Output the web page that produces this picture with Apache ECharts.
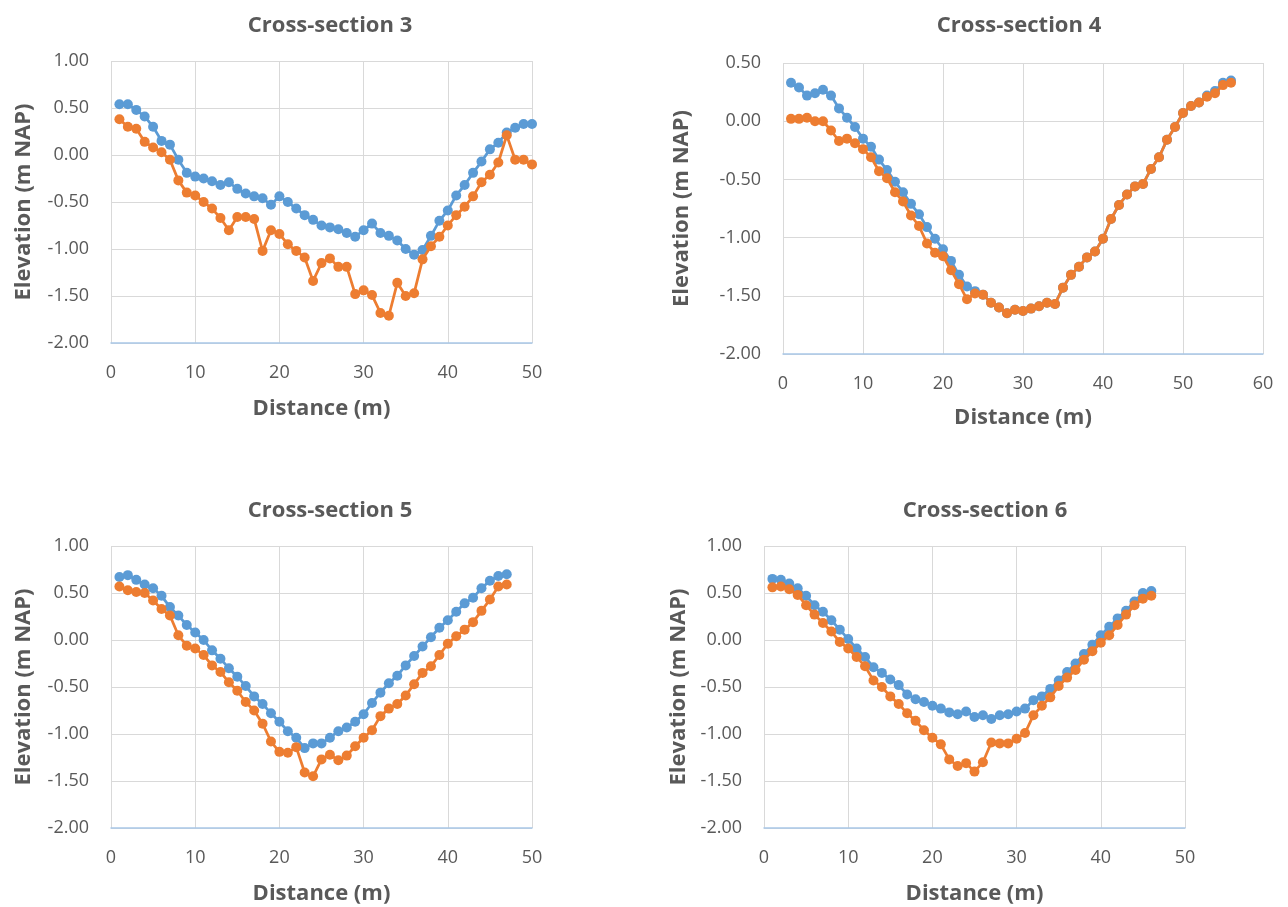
<!DOCTYPE html>
<html>
<head>
<meta charset="utf-8">
<title>Cross-sections</title>
<script src="https://cdn.jsdelivr.net/npm/echarts@6/dist/echarts.min.js"></script>
<style>
  html, body { margin: 0; padding: 0; background: #ffffff; }
  #chart { width: 1288px; height: 907px; }
</style>
</head>
<body>
<div id="chart"></div>
<script>
// Surveyed bed profiles, elevation in m NAP against distance across the channel (m)

const cs3Distance = [1,2,3,4,5,6,7,8,9,10,11,12,13,14,15,16,17,18,19,20,21,22,23,24,25,26,27,28,29,30,31,32,33,34,35,36,37,38,39,40,41,42,43,44,45,46,47,48,49,50];
const cs3Series1 = [0.54,0.54,0.48,0.41,0.30,0.15,0.11,-0.05,-0.19,-0.23,-0.25,-0.28,-0.32,-0.29,-0.36,-0.41,-0.44,-0.46,-0.53,-0.44,-0.50,-0.57,-0.64,-0.69,-0.75,-0.77,-0.79,-0.83,-0.87,-0.80,-0.73,-0.83,-0.86,-0.91,-1.00,-1.06,-1.01,-0.86,-0.70,-0.59,-0.43,-0.32,-0.19,-0.07,0.06,0.13,0.24,0.29,0.33,0.33];
const cs3Series2 = [0.38,0.30,0.28,0.14,0.08,0.03,-0.05,-0.27,-0.40,-0.43,-0.50,-0.57,-0.67,-0.80,-0.66,-0.66,-0.68,-1.02,-0.80,-0.84,-0.95,-1.02,-1.09,-1.34,-1.15,-1.10,-1.19,-1.19,-1.48,-1.44,-1.49,-1.68,-1.71,-1.36,-1.50,-1.47,-1.11,-0.97,-0.87,-0.75,-0.64,-0.55,-0.44,-0.29,-0.21,-0.08,0.21,-0.05,-0.05,-0.10];

const cs4Distance = [1,2,3,4,5,6,7,8,9,10,11,12,13,14,15,16,17,18,19,20,21,22,23,24,25,26,27,28,29,30,31,32,33,34,35,36,37,38,39,40,41,42,43,44,45,46,47,48,49,50,51,52,53,54,55,56];
const cs4Series1 = [0.33,0.29,0.22,0.24,0.27,0.22,0.11,0.03,-0.05,-0.15,-0.22,-0.33,-0.42,-0.52,-0.61,-0.71,-0.80,-0.91,-1.01,-1.10,-1.20,-1.32,-1.42,-1.46,-1.49,-1.56,-1.60,-1.65,-1.62,-1.63,-1.61,-1.59,-1.56,-1.57,-1.43,-1.32,-1.25,-1.17,-1.12,-1.01,-0.84,-0.72,-0.63,-0.56,-0.54,-0.41,-0.31,-0.16,-0.05,0.07,0.13,0.16,0.22,0.26,0.33,0.35];
const cs4Series2 = [0.02,0.02,0.03,0.00,0.00,-0.08,-0.17,-0.15,-0.19,-0.24,-0.31,-0.43,-0.49,-0.61,-0.69,-0.81,-0.90,-1.05,-1.13,-1.16,-1.28,-1.40,-1.53,-1.48,-1.49,-1.56,-1.60,-1.65,-1.62,-1.63,-1.61,-1.59,-1.56,-1.57,-1.43,-1.32,-1.25,-1.17,-1.12,-1.01,-0.84,-0.72,-0.63,-0.56,-0.54,-0.41,-0.31,-0.16,-0.05,0.07,0.13,0.16,0.21,0.24,0.31,0.33];

const cs5Distance = [1,2,3,4,5,6,7,8,9,10,11,12,13,14,15,16,17,18,19,20,21,22,23,24,25,26,27,28,29,30,31,32,33,34,35,36,37,38,39,40,41,42,43,44,45,46,47];
const cs5Series1 = [0.67,0.69,0.64,0.59,0.55,0.47,0.35,0.26,0.16,0.08,0.00,-0.11,-0.20,-0.30,-0.39,-0.49,-0.60,-0.68,-0.78,-0.87,-0.97,-1.04,-1.15,-1.10,-1.10,-1.04,-0.97,-0.93,-0.87,-0.79,-0.67,-0.56,-0.46,-0.38,-0.27,-0.17,-0.07,0.03,0.13,0.21,0.30,0.39,0.45,0.55,0.63,0.68,0.70];
const cs5Series2 = [0.57,0.53,0.51,0.50,0.42,0.33,0.26,0.05,-0.06,-0.09,-0.16,-0.27,-0.34,-0.45,-0.54,-0.66,-0.75,-0.89,-1.08,-1.19,-1.20,-1.14,-1.41,-1.45,-1.27,-1.22,-1.28,-1.23,-1.13,-1.04,-0.96,-0.81,-0.73,-0.68,-0.59,-0.47,-0.35,-0.28,-0.16,-0.04,0.04,0.11,0.19,0.31,0.43,0.57,0.59];

const cs6Distance = [1,2,3,4,5,6,7,8,9,10,11,12,13,14,15,16,17,18,19,20,21,22,23,24,25,26,27,28,29,30,31,32,33,34,35,36,37,38,39,40,41,42,43,44,45,46];
const cs6Series1 = [0.65,0.64,0.60,0.55,0.47,0.37,0.30,0.21,0.11,0.01,-0.09,-0.18,-0.29,-0.35,-0.42,-0.48,-0.58,-0.63,-0.66,-0.70,-0.73,-0.77,-0.79,-0.76,-0.82,-0.80,-0.84,-0.80,-0.79,-0.76,-0.73,-0.64,-0.60,-0.52,-0.43,-0.34,-0.25,-0.15,-0.05,0.05,0.14,0.23,0.31,0.41,0.50,0.52];
const cs6Series2 = [0.56,0.57,0.54,0.48,0.37,0.27,0.18,0.09,-0.02,-0.09,-0.18,-0.28,-0.43,-0.50,-0.60,-0.68,-0.78,-0.86,-0.96,-1.04,-1.11,-1.27,-1.34,-1.31,-1.40,-1.30,-1.09,-1.10,-1.10,-1.05,-0.99,-0.80,-0.70,-0.61,-0.49,-0.40,-0.32,-0.21,-0.12,-0.03,0.05,0.16,0.27,0.37,0.44,0.47];

const panelTitles = ['Cross-section 3', 'Cross-section 4', 'Cross-section 5', 'Cross-section 6'];
const xAxisTitle = 'Distance (m)';
const yAxisTitle = 'Elevation (m NAP)';

const panels = [
  { distance: cs3Distance, s1: cs3Series1, s2: cs3Series2, xMax: 50, yMax: 1.0,
    grid: { left: 111, top: 61, width: 421, height: 282 }, titleX: 325, titleY: 10, yGap: 76, xGap: 55 },
  { distance: cs4Distance, s1: cs4Series1, s2: cs4Series2, xMax: 60, yMax: 0.5,
    grid: { left: 783, top: 63, width: 480, height: 291 }, titleX: 1014, titleY: 10, yGap: 90, xGap: 53 },
  { distance: cs5Distance, s1: cs5Series1, s2: cs5Series2, xMax: 50, yMax: 1.0,
    grid: { left: 111, top: 546, width: 421, height: 282 }, titleX: 325, titleY: 495, yGap: 76, xGap: 55 },
  { distance: cs6Distance, s1: cs6Series1, s2: cs6Series2, xMax: 50, yMax: 1.0,
    grid: { left: 764, top: 546, width: 421, height: 282 }, titleX: 980, titleY: 495, yGap: 74, xGap: 55 }
];

const FONT = '"Open Sans", "Liberation Sans", sans-serif';
const TEXT = '#595959';
const GRIDLINE = '#D9D9D9';
const BLUE = '#5B9BD5';
const ORANGE = '#ED7D31';

const pairs = (xs, ys) => xs.map((x, i) => [x, ys[i]]);

const option = {
  animation: false,
  backgroundColor: '#ffffff',
  title: panels.map((p, i) => ({
    text: panelTitles[i],
    left: p.titleX, top: p.titleY, textAlign: 'center',
    textStyle: { fontFamily: FONT, fontSize: 22, fontWeight: 'bold', color: TEXT }
  })),
  grid: panels.map(p => Object.assign({ containLabel: false }, p.grid)),
  xAxis: panels.map((p, i) => ({
    type: 'value', gridIndex: i, min: 0, max: p.xMax, interval: 10,
    name: xAxisTitle, nameLocation: 'middle', nameGap: p.xGap,
    nameTextStyle: { fontFamily: FONT, fontSize: 22, fontWeight: 'bold', color: TEXT },
    axisLine: { show: true, onZero: false, lineStyle: { color: '#A9C8E8', width: 1.5 } },
    axisTick: { show: false },
    axisLabel: { fontFamily: FONT, fontSize: 18, color: TEXT, margin: 21 },
    splitLine: { show: true, lineStyle: { color: GRIDLINE, width: 1 } }
  })),
  yAxis: panels.map((p, i) => ({
    type: 'value', gridIndex: i, min: -2.0, max: p.yMax, interval: 0.5,
    name: yAxisTitle, nameLocation: 'middle', nameGap: p.yGap, nameRotate: 90,
    nameTextStyle: { fontFamily: FONT, fontSize: 22, fontWeight: 'bold', color: TEXT },
    axisLine: { show: false },
    axisTick: { show: false },
    axisLabel: { fontFamily: FONT, fontSize: 18, color: TEXT, margin: 22,
      formatter: v => v.toFixed(2) },
    splitLine: { show: true, lineStyle: { color: GRIDLINE, width: 1 } }
  })),
  series: panels.flatMap((p, i) => [
    { name: 'Series 1', type: 'line', xAxisIndex: i, yAxisIndex: i,
      data: pairs(p.distance, p.s1), symbol: 'circle', symbolSize: 10,
      lineStyle: { color: BLUE, width: 2.75 }, itemStyle: { color: BLUE }, z: 2 },
    { name: 'Series 2', type: 'line', xAxisIndex: i, yAxisIndex: i,
      data: pairs(p.distance, p.s2), symbol: 'circle', symbolSize: 10,
      lineStyle: { color: ORANGE, width: 2.75 }, itemStyle: { color: ORANGE }, z: 3 }
  ])
};

const chart = echarts.init(document.getElementById('chart'), null, { renderer: 'canvas' });
chart.setOption(option);
</script>
</body>
</html>
